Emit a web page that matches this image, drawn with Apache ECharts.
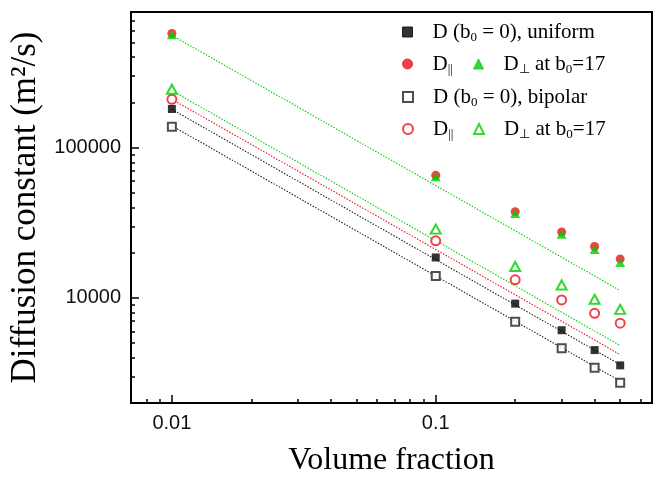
<!DOCTYPE html>
<html>
<head>
<meta charset="utf-8">
<script src="https://cdn.jsdelivr.net/npm/echarts@6/dist/echarts.min.js"></script>
<style>
  html, body { margin: 0; padding: 0; background: #fff; }
  #chart { width: 659px; height: 477px; }
</style>
</head>
<body>
<div id="chart"></div>
<script>
// volume fractions of the measured points
const xValues = [0.01, 0.1, 0.2, 0.3, 0.4, 0.5];

// uniform distribution
const uniformD = [181000, 18600, 9170, 6100, 4500, 3560];
const uniformPar = [575000, 65500, 37500, 27500, 22000, 18200];
const uniformPerp = [565000, 64000, 36500, 26500, 21000, 17200];

// bipolar distribution
const bipolarD = [138000, 14000, 6950, 4620, 3430, 2730];
const bipolarPar = [210000, 24000, 13200, 9700, 7900, 6800];
const bipolarPerp = [245000, 28700, 16200, 12200, 9800, 8400];

// dotted guide lines, read at their two ends
const fitX = [0.01, 0.5];
const fitUniformAniso = [560000, 11200];
const fitBipolarPerp = [240000, 4820];
const fitBipolarPar = [210000, 4200];
const fitUniformD = [180000, 3600];
const fitBipolarD = [140000, 2800];

// ticks
const xMajorTicks = [0.01, 0.1];
const xMinorTicks = [0.008, 0.009, 0.02, 0.03, 0.04, 0.05, 0.06, 0.07, 0.08, 0.09, 0.2, 0.3, 0.4, 0.5, 0.6];
const yMajorTicks = [10000, 100000];
const yMinorTicks = [3000, 4000, 5000, 6000, 7000, 8000, 9000,
  20000, 30000, 40000, 50000, 60000, 70000, 80000, 90000,
  200000, 300000, 400000, 500000, 600000, 700000];

const RED = '#e8141c';
const GREEN = '#00d000';
const SERIF = '"Liberation Serif", "Times New Roman", serif';
const SANS = '"Liberation Sans", Arial, sans-serif';

function pairs(xs, ys) {
  return xs.map((x, i) => [x, ys[i]]);
}

// legend texts (rich text for subscripts)
const legendText = {
  'uniform D': '{g|}{t|D (b}{s|0}{t| = 0), uniform}',
  'uniform par': '{g|}{t|D}{s|||}',
  'uniform perp': '{g|}{t|D}{s|⊥}{t| at b}{s|0}{t|=17}',
  'bipolar D': '{g|}{t|D (b}{s|0}{t| = 0), bipolar}',
  'bipolar par': '{g|}{t|D}{s|||}',
  'bipolar perp': '{g|}{t|D}{s|⊥}{t| at b}{s|0}{t|=17}'
};

function legendAt(name, left, top) {
  return {
    data: [name],
    left: left,
    top: top,
    itemWidth: 10,
    itemHeight: 10,
    selectedMode: false,
    itemStyle: { borderWidth: 1 },
    formatter: n => legendText[n],
    textStyle: {
      rich: {
        g: { width: 15 },
        t: { fontFamily: SERIF, fontSize: 21, color: '#000', lineHeight: 24 },
        s: { fontFamily: SERIF, fontSize: 13, color: '#000', verticalAlign: 'bottom', lineHeight: 13, padding: [14, 0, 0, 0] }
      }
    }
  };
}

function fitLine(ys, color) {
  return {
    type: 'line',
    data: pairs(fitX, ys),
    symbol: 'none',
    silent: true,
    z: 1,
    lineStyle: { color: color, width: 1.1, type: [1.5, 1.5] }
  };
}

function points(name, ys, symbol, size, color) {
  return {
    name: name,
    type: 'scatter',
    data: pairs(xValues, ys),
    symbol: symbol,
    symbolSize: size,
    z: 3,
    itemStyle: { color: color, borderColor: color, borderWidth: symbol.indexOf('empty') === 0 ? 1 : 0 }
  };
}

function logAxis(min, max, ticks, len, withLabels, extra) {
  return Object.assign({
    type: 'log',
    logBase: 10,
    min: min,
    max: max,
    splitLine: { show: false },
    axisLine: { show: withLabels, lineStyle: { color: '#000', width: 2 } },
    axisTick: { show: true, inside: true, length: len, customValues: ticks, lineStyle: { color: '#000', width: 1.5 } },
    axisLabel: { show: false }
  }, extra);
}

const chart = echarts.init(document.getElementById('chart'));

chart.setOption({
  animation: false,
  backgroundColor: '#fff',
  grid: {
    left: 131, right: 7, top: 12, bottom: 74,
    outerBoundsMode: 'none',
    containLabel: false,
    show: true, borderColor: '#000', borderWidth: 2
  },
  xAxis: [
    logAxis(0.007, 0.66, xMajorTicks, 8, true, {
      position: 'bottom',
      name: 'Volume fraction',
      nameLocation: 'middle',
      nameGap: 42,
      nameTextStyle: { fontFamily: SERIF, fontSize: 32, color: '#000' },
      axisLabel: { customValues: xMajorTicks, fontFamily: SANS, fontSize: 20, color: '#111', margin: 10, formatter: v => String(v) }
    }),
    logAxis(0.007, 0.66, xMinorTicks, 4, false, { position: 'bottom' })
  ],
  yAxis: [
    logAxis(2000, 800000, yMajorTicks, 8, true, {
      position: 'left',
      name: 'Diffusion constant (m²/s)',
      nameLocation: 'middle',
      nameRotate: 90,
      nameGap: 85,
      nameTextStyle: { fontFamily: SERIF, fontSize: 35, color: '#000' },
      axisLabel: { customValues: yMajorTicks, fontFamily: SANS, fontSize: 20, color: '#111', margin: 10, formatter: v => String(v) }
    }),
    logAxis(2000, 800000, yMinorTicks, 4, false, { position: 'left' })
  ],
  legend: [
    legendAt('uniform D', 397, 12),
    legendAt('uniform par', 397, 44),
    legendAt('uniform perp', 468, 44),
    legendAt('bipolar D', 397, 77),
    legendAt('bipolar par', 397, 109),
    legendAt('bipolar perp', 468, 109)
  ],
  series: [
    fitLine(fitUniformAniso, GREEN),
    fitLine(fitBipolarPerp, GREEN),
    fitLine(fitBipolarPar, RED),
    fitLine(fitUniformD, '#222'),
    fitLine(fitBipolarD, '#222'),
    points('uniform D', uniformD, 'rect', 8, '#000'),
    points('uniform par', uniformPar, 'circle', 9, RED),
    points('uniform perp', uniformPerp, 'triangle', [10, 9], GREEN),
    points('bipolar D', bipolarD, 'emptyRect', 8, '#222'),
    points('bipolar par', bipolarPar, 'emptyCircle', 9, RED),
    points('bipolar perp', bipolarPerp, 'emptyTriangle', [10, 9], GREEN)
  ]
});
</script>
</body>
</html>
